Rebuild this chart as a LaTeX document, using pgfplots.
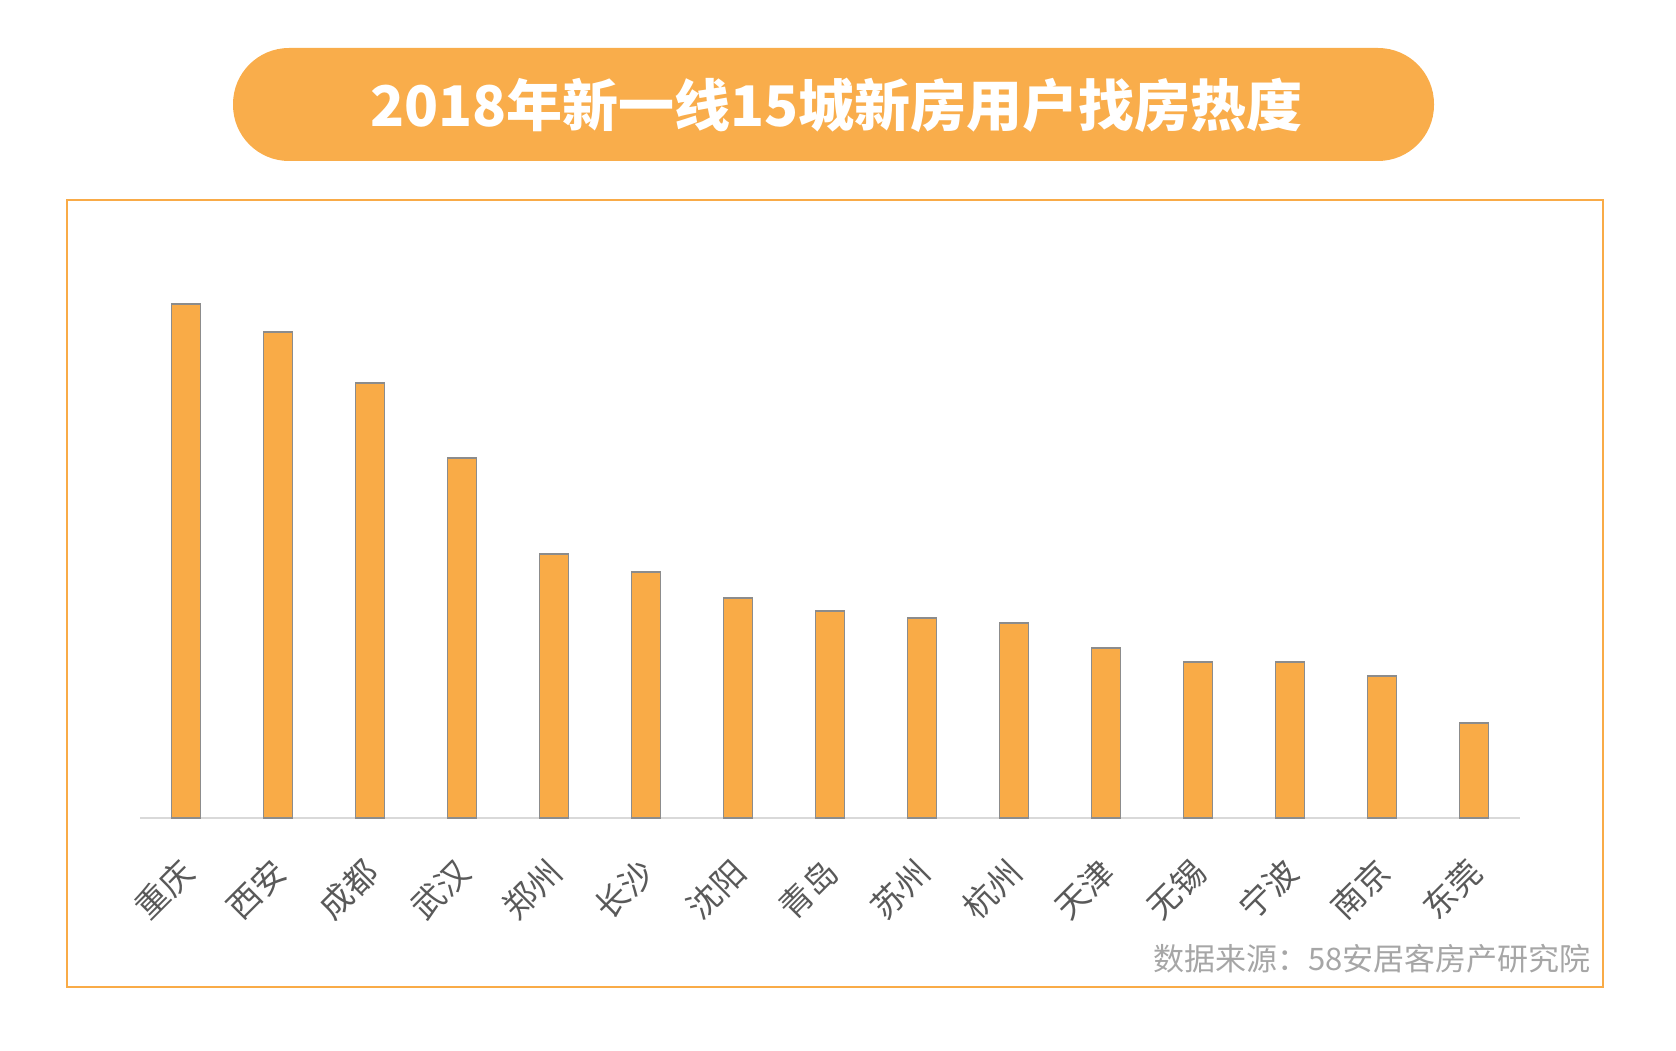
\documentclass[border=0pt]{standalone}
\usepackage{pgfplots}
\pgfplotsset{compat=1.18}
\usepackage{fontspec}
\setmainfont{Noto Sans CJK SC}

\definecolor{barorange}{HTML}{F9AB47}
\definecolor{pillorange}{HTML}{F9AD4B}
\definecolor{edgegray}{HTML}{8C8C8C}
\definecolor{labelgray}{HTML}{595959}
\definecolor{srcgray}{HTML}{A6A6A6}
\definecolor{basegray}{HTML}{D9D9D9}

\begin{document}
\begin{tikzpicture}
% page = 1676 x 1050 px, 1 px = 0.5pt
\begin{scope}[x=0.5pt, y=0.5pt]
\path[use as bounding box] (0,0) rectangle (1676,1050);
% title pill
\fill[pillorange, rounded corners=28pt] (233,889) rectangle (1434,1002);
\node[text=white, font=\bfseries\fontsize{28}{30}\selectfont] at (836.5,945)
  {2018年新一线15城新房用户找房热度};
% outer frame
\draw[barorange, line width=1pt] (67,63) rectangle (1603,850);
% source
\node[anchor=east, inner sep=0pt, text=srcgray, font=\fontsize{15.5}{17}\selectfont]
  at (1591,91.5) {数据来源：58安居客房产研究院};
\end{scope}

\begin{axis}[
    at={(70pt,116pt)}, anchor=south west,
    scale only axis,
    width=690pt, height=284pt,
    xmin=-0.5, xmax=14.5,
    ymin=0, ymax=568,
    ybar,
    bar width=14.5pt,
    axis x line=bottom,
    axis y line=none,
    x axis line style={-, basegray, line width=1pt},
    major tick length=0pt,
    xtick=data,
    xticklabels={重庆,西安,成都,武汉,郑州,长沙,沈阳,青岛,苏州,杭州,天津,无锡,宁波,南京,东莞},
    xticklabel style={inner sep=0pt, yshift=-24pt, xshift=1pt, rotate=45, anchor=east,
                      text=labelgray, font=\fontsize{16.5}{18}\selectfont},
    clip=false,
]
\addplot[fill=barorange, draw=edgegray, line width=0.6pt] coordinates {
  (0,514) (1,486) (2,435) (3,360) (4,264) (5,246) (6,220) (7,207)
  (8,200) (9,195) (10,170) (11,156) (12,156) (13,142) (14,95)
};
\end{axis}
\end{tikzpicture}
\end{document}
